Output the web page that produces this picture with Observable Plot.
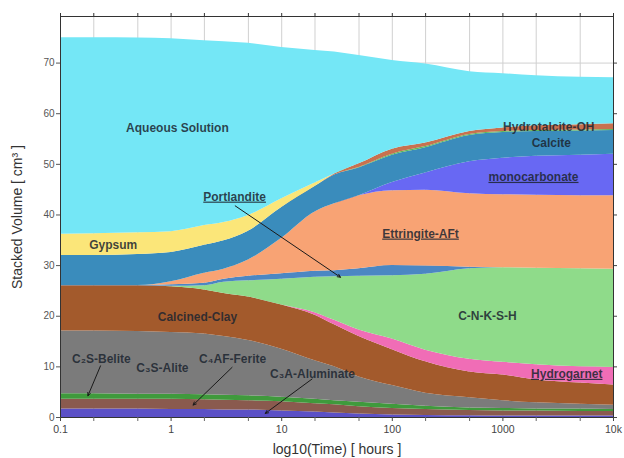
<!DOCTYPE html>
<html>
<head>
<meta charset="utf-8">
<script src="https://cdn.jsdelivr.net/npm/d3@7"></script>
<script src="https://cdn.jsdelivr.net/npm/@observablehq/plot@0.6"></script>
<style>
  body { margin: 0; background: #fff; }
  #chart { width: 624px; height: 458px; }
</style>
</head>
<body>
<div id="chart"></div>
<script>
// Hydration time steps (hours)
const hours = [0.1, 0.2, 0.5, 1, 2, 3, 5, 10, 20, 30, 50, 100, 200, 500, 1000, 2000, 5000, 10000];

// Phase volumes (cm³), listed from the bottom of the stack to the top
const c3aAluminate  = [1.7, 1.7, 1.7, 1.6, 1.6, 1.5, 1.5, 1.3, 1.1, 0.9, 0.7, 0.5, 0.4, 0.35, 0.3, 0.3, 0.3, 0.3];
const c4afFerite    = [1.9, 1.9, 1.9, 2.0, 1.9, 1.9, 1.8, 1.8, 1.6, 1.6, 1.4, 1.3, 1.2, 1.05, 1.0, 1.0, 0.9, 0.9];
const c2sBelite     = [1.1, 1.1, 1.0, 1.0, 1.0, 1.0, 1.0, 0.9, 0.9, 0.8, 0.9, 0.8, 0.6, 0.5, 0.5, 0.4, 0.5, 0.4];
const c3sAlite      = [12.4, 12.4, 12.4, 12.2, 12.0, 11.6, 10.9, 9.5, 7.6, 6.7, 5.0, 3.7, 2.6, 2.0, 1.5, 1.2, 0.9, 0.8];
const calcinedClay  = [8.9, 8.9, 9.0, 9.0, 8.7, 8.5, 8.6, 8.7, 9.0, 8.3, 8.0, 7.1, 6.2, 5.1, 5.1, 4.5, 4.2, 4.0];
const hydrogarnet   = [0, 0, 0, 0, 0, 0, 0, 0, 0.5, 0.9, 1.3, 2.1, 2.3, 2.5, 2.5, 3.0, 3.2, 3.5];
const cnksh         = [0, 0, 0, 0.1, 0.8, 2.2, 3.2, 5.1, 7.0, 8.6, 10.6, 12.5, 15.0, 17.9, 18.7, 19.1, 19.4, 19.4];
const portlandite   = [0.05, 0.05, 0.05, 0.3, 0.5, 0.6, 0.9, 1.1, 1.2, 1.2, 1.5, 2.0, 1.6, 0.3, 0, 0, 0, 0];
const ettringite    = [0, 0, 0, 0.6, 2.0, 2.0, 3.2, 7.0, 11.7, 13.2, 14.4, 14.8, 15.0, 14.5, 14.4, 14.4, 14.4, 14.5];
const monocarbonate = [0, 0, 0, 0, 0, 0, 0, 0, 0, 0, 0, 1.6, 3.4, 6.3, 7.2, 7.7, 8.0, 8.2];
const calcite       = [5.95, 5.95, 6.15, 5.8, 5.5, 5.6, 5.7, 6.1, 5.0, 5.7, 5.5, 5.4, 5.0, 5.2, 5.1, 4.9, 4.8, 4.7];
const stratlingite  = [0, 0, 0, 0, 0, 0, 0, 0, 0, 0, 0.1, 0.2, 0.2, 0.2, 0.2, 0.2, 0.2, 0.2];
const hydrotalcite  = [0, 0, 0, 0, 0, 0, 0, 0, 0, 0.2, 0.7, 1.0, 0.7, 0.6, 0.7, 0.9, 1.0, 1.1];
const gypsum        = [4.2, 4.3, 4.3, 4.1, 3.9, 3.6, 3.1, 1.7, 0.7, 0, 0, 0, 0, 0, 0, 0, 0, 0];
const aqueous       = [38.8, 38.7, 38.45, 38.1, 36.5, 35.7, 34.0, 29.9, 26.2, 24.1, 21.4, 17.5, 15.6, 11.8, 10.7, 9.9, 9.4, 9.1];

const phases = [
  "C3A-Aluminate", "C4AF-Ferite", "C2S-Belite", "C3S-Alite", "Calcined-Clay",
  "Hydrogarnet", "C-N-K-S-H", "Portlandite", "Ettringite-AFt", "monocarbonate",
  "Calcite", "Straetlingite", "Hydrotalcite-OH", "Gypsum", "Aqueous Solution"
];
const phaseVolumes = [
  c3aAluminate, c4afFerite, c2sBelite, c3sAlite, calcinedClay,
  hydrogarnet, cnksh, portlandite, ettringite, monocarbonate,
  calcite, stratlingite, hydrotalcite, gypsum, aqueous
];
const phaseColors = [
  "#5b50c6", "#8a5a4e", "#3f9a3c", "#7b7b7b", "#a35a2c",
  "#f06db6", "#8fdb8a", "#4b87c3", "#f8a374", "#6868f3",
  "#3a8cbc", "#5fb85a", "#c8714f", "#fbe679", "#74e7f6"
];

// Axis ticks and their labels
const xMajorTicks = [0.1, 1, 10, 100, 1000, 10000];
const xMajorLabels = ["0.1", "1", "10", "100", "1000", "10k"];
const xMinorTicks = [0.2, 0.5, 2, 5, 20, 50, 200, 500, 2000, 5000];
const xMinorLabels = ["2", "5", "2", "5", "2", "5", "2", "5", "2", "5"];
const yTicks = [0, 10, 20, 30, 40, 50, 60, 70];

// In-chart phase labels (time in hours, volume in cm³)
const labelTexts = [
  "Aqueous Solution", "Gypsum", "Portlandite", "Ettringite-AFt", "monocarbonate",
  "Calcite", "Hydrotalcite-OH", "C-N-K-S-H", "Hydrogarnet", "Calcined-Clay",
  "C₂S-Belite", "C₃S-Alite", "C₄AF-Ferite", "C₃A-Aluminate"
];
const labelHours = [1.14, 0.30, 3.75, 180, 1890, 2740, 2600, 725, 3780, 1.73, 0.234, 0.835, 3.6, 19];
const labelVolumes = [57.1, 34.1, 43.6, 36.3, 47.5, 54.1, 57.3, 20.1, 8.6, 19.8, 11.6, 9.8, 11.6, 8.6];
const underlined = ["Portlandite", "Ettringite-AFt", "monocarbonate", "Hydrogarnet"];

// Leader arrows from labels to thin layers
const arrowFromHours = [3.8, 0.23, 3.56, 18.8];
const arrowFromVolumes = [41.8, 10.2, 9.9, 7.6];
const arrowToHours = [34, 0.177, 1.58, 7.1];
const arrowToVolumes = [27.7, 4.3, 2.45, 0.8];

const xTitle = "log10(Time) [ hours ]";
const yTitle = "Stacked Volume [ cm³ ]";

const rows = [];
phases.forEach((p, i) => hours.forEach((h, j) => rows.push({phase: p, hours: h, volume: phaseVolumes[i][j]})));
const labels = labelTexts.map((t, i) => ({text: t, hours: labelHours[i], volume: labelVolumes[i]}));
const arrows = arrowFromHours.map((h, i) => ({x1: h, y1: arrowFromVolumes[i], x2: arrowToHours[i], y2: arrowToVolumes[i]}));

const font = "'Liberation Sans', Arial, sans-serif";

const chart = Plot.plot({
  width: 624,
  height: 458,
  marginLeft: 60,
  marginRight: 11,
  marginTop: 16,
  marginBottom: 41,
  style: {fontFamily: font, background: "#fff"},
  x: {type: "log", domain: [0.1, 10000]},
  y: {domain: [0, 79.2]},
  color: {domain: phases, range: phaseColors},
  marks: [
    Plot.gridX([...xMajorTicks, ...xMinorTicks], {stroke: "#d0d0d0", strokeOpacity: 1}),
    Plot.gridY(yTicks, {stroke: "#d0d0d0", strokeOpacity: 1}),
    Plot.areaY(rows, Plot.stackY({
      x: "hours", y: "volume", z: "phase", fill: "phase", curve: "monotone-x"
    })),
    Plot.frame({stroke: "#333"}),
    Plot.axisY(yTicks, {tickSize: 4, tickPadding: 2, fontSize: 10, color: "#555", label: null}),
    Plot.axisY(yTicks, {anchor: "right", tickSize: 3, tickFormat: () => "", label: null, color: "#444"}),
    Plot.axisX(xMajorTicks, {tickSize: 4, tickPadding: 4, fontSize: 10.5, color: "#444",
      tickFormat: d => xMajorLabels[xMajorTicks.indexOf(d)], label: null}),
    Plot.axisX(xMinorTicks, {tickSize: 4, tickPadding: 2, fontSize: 8, color: "#666",
      tickFormat: d => xMinorLabels[xMinorTicks.indexOf(d)], label: null}),
    Plot.axisX([...xMajorTicks, ...xMinorTicks], {anchor: "top", tickSize: 4, tickFormat: () => "", label: null, color: "#333"}),
    Plot.arrow(arrows, {x1: "x1", y1: "y1", x2: "x2", y2: "y2", stroke: "#1a1a1a", strokeWidth: 1, headLength: 5, headAngle: 50}),
    Plot.text(labels, {x: "hours", y: "volume", text: "text", fontSize: 12, fontWeight: "bold",
      fill: "#1c2530", fillOpacity: 0.85}),
    Plot.text([xTitle], {frameAnchor: "bottom", dy: 32, fontSize: 14, lineAnchor: "middle", fill: "#333"}),
    Plot.text([yTitle], {frameAnchor: "left", dx: -43, rotate: -90, fontSize: 14, textAnchor: "middle", lineAnchor: "middle", fill: "#333"})
  ]
});

chart.querySelectorAll("text").forEach(t => {
  if (underlined.includes(t.textContent)) {
    t.style.textDecoration = "underline";
    t.style.textDecorationColor = "#e08a9a";
  }
});

document.getElementById("chart").appendChild(chart);
</script>
</body>
</html>
